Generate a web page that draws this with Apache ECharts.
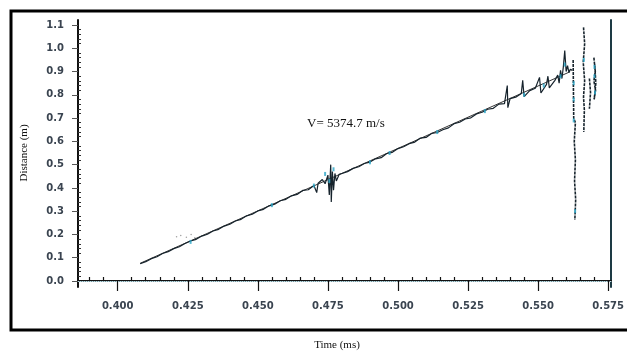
<!DOCTYPE html>
<html>
<head>
<meta charset="utf-8">
<script src="https://cdn.jsdelivr.net/npm/echarts@6/dist/echarts.min.js"></script>
<style>
  html, body { margin: 0; padding: 0; background: #fff; }
  #chart { width: 627px; height: 352px; }
</style>
</head>
<body>
<div id="chart"></div>
<script>
// Distance vs time trace (scanned plot) — fitted velocity V = 5374.7 m/s
const X_TICKS = [0.400, 0.425, 0.450, 0.475, 0.500, 0.525, 0.550, 0.575];
const Y_TICKS = [0.0, 0.1, 0.2, 0.3, 0.4, 0.5, 0.6, 0.7, 0.8, 0.9, 1.0, 1.1];

// main trace
const timeMs = [
  0.408, 0.410, 0.412, 0.414, 0.416, 0.418, 0.420, 0.422, 0.424, 0.426,
  0.428, 0.430, 0.432, 0.434, 0.436, 0.438, 0.440, 0.442, 0.444, 0.446,
  0.448, 0.450, 0.452, 0.454, 0.456, 0.458, 0.460, 0.462, 0.464, 0.466,
  0.468, 0.470, 0.471, 0.4715, 0.472, 0.473, 0.474, 0.475, 0.4755, 0.476,
  0.4762, 0.4766, 0.477, 0.4775, 0.478, 0.479, 0.480, 0.482, 0.484, 0.486,
  0.488, 0.490, 0.492, 0.494, 0.496, 0.498, 0.500, 0.502, 0.504, 0.506,
  0.508, 0.510, 0.512, 0.514, 0.516, 0.518, 0.520, 0.522, 0.524, 0.526,
  0.528, 0.530, 0.532, 0.534, 0.536, 0.538, 0.539, 0.5392, 0.540, 0.542,
  0.544, 0.5445, 0.545, 0.547, 0.549, 0.5505, 0.551, 0.553, 0.5535, 0.554,
  0.556, 0.557, 0.5575, 0.558, 0.5585, 0.559, 0.5595, 0.560, 0.5605, 0.561,
  0.5615, 0.5622
];
const distM = [
  0.074, 0.083, 0.096, 0.104, 0.118, 0.126, 0.139, 0.147, 0.161, 0.172,
  0.179, 0.193, 0.201, 0.215, 0.222, 0.236, 0.244, 0.258, 0.265, 0.280,
  0.287, 0.301, 0.308, 0.323, 0.330, 0.345, 0.351, 0.366, 0.372, 0.389,
  0.392, 0.410, 0.380, 0.420, 0.414, 0.436, 0.418, 0.455, 0.370, 0.500,
  0.340, 0.470, 0.390, 0.462, 0.430, 0.458, 0.462, 0.470, 0.484, 0.491,
  0.505, 0.511, 0.525, 0.530, 0.548, 0.553, 0.569, 0.577, 0.590, 0.597,
  0.614, 0.617, 0.634, 0.638, 0.650, 0.658, 0.676, 0.682, 0.696, 0.701,
  0.718, 0.725, 0.738, 0.742, 0.760, 0.762, 0.840, 0.745, 0.784, 0.790,
  0.806, 0.862, 0.792, 0.818, 0.828, 0.875, 0.808, 0.845, 0.880, 0.830,
  0.862, 0.885, 0.850, 0.905, 0.870, 0.920, 0.990, 0.900, 0.925, 0.895,
  0.910, 0.905
];

// linear fit endpoints
const fitLine = [[0.408, 0.076], [0.561, 0.897]];

// break-up at the end of the record: vertical streaks
const burstA = [[0.5625, 0.950], [0.5627, 0.700], [0.5633, 0.680], [0.5629, 0.600], [0.5633, 0.520], [0.5630, 0.430], [0.5634, 0.350], [0.5631, 0.262]];
const burstB = [[0.5662, 1.090], [0.5666, 1.020], [0.5661, 0.940], [0.5666, 0.860], [0.5662, 0.790], [0.5665, 0.735], [0.5663, 0.640]];
const burstC = [[0.5683, 0.870], [0.5687, 0.810], [0.5683, 0.740]];
const burstD = [[0.5699, 0.960], [0.5704, 0.900], [0.5699, 0.860], [0.5705, 0.820], [0.5700, 0.780], [0.5706, 0.850], [0.5702, 0.930]];

// cyan scan flecks along the trace
const cyanFlecks = [
  [0.426, 0.168], [0.455, 0.326], [0.470, 0.410], [0.474, 0.460], [0.4755, 0.430],
  [0.477, 0.480], [0.490, 0.510], [0.497, 0.550], [0.514, 0.640], [0.531, 0.730],
  [0.545, 0.800], [0.552, 0.840], [0.558, 0.880], [0.5595, 0.930], [0.5627, 0.850],
  [0.5627, 0.780], [0.5627, 0.690], [0.5632, 0.300], [0.5663, 0.950], [0.5701, 0.920],
  [0.5701, 0.880], [0.5703, 0.810]
];
const grayDots = [[0.4225, 0.196], [0.4245, 0.188], [0.4262, 0.200], [0.4275, 0.186], [0.4210, 0.190]];

const X_MIN = 0.38583, X_MAX = 0.57606;
const Y_MIN = -0.0258, Y_MAX = 1.1215;

const minorX = [];
for (let v = 390; v <= 575; v += 5) if (v % 25) minorX.push(v / 1000);
const minorY = [];
for (let v = 0; v <= 110; v += 2) if (v % 10) minorY.push(v / 100);

const chart = echarts.init(document.getElementById('chart'), null, { renderer: 'canvas' });

const labelFont = { fontFamily: 'DejaVu Sans', fontSize: 10, fontWeight: 'bold', color: '#3a4450' };
const AX = '#111';

const trace = timeMs.map((t, i) => [t, distM[i]]);
const burstSeries = [burstA, burstB, burstC, burstD].map(seg => ({
  type: 'line', data: seg, symbol: 'none', silent: true,
  lineStyle: { color: '#16232c', width: 1.6, type: [3, 1] }, z: 4,
}));

chart.setOption({
  backgroundColor: '#fff', animation: false,
  grid: { left: 78, right: 12, top: 20, bottom: 65 },
  xAxis: [
    {
      type: 'value', min: X_MIN, max: X_MAX, position: 'bottom',
      axisLine: { lineStyle: { color: AX, width: 2 } },
      axisTick: { show: true, inside: false, length: 10, customValues: X_TICKS, lineStyle: { color: AX, width: 1.2 } },
      axisLabel: { ...labelFont, margin: 14, customValues: X_TICKS, formatter: v => v.toFixed(3) },
      splitLine: { show: false },
    },
    {
      type: 'value', min: X_MIN, max: X_MAX, position: 'bottom',
      axisLine: { show: false },
      axisTick: { show: true, inside: true, length: 4, customValues: minorX, lineStyle: { color: AX, width: 1.2 } },
      axisLabel: { show: false }, splitLine: { show: false },
    },
    {
      type: 'value', min: X_MIN, max: X_MAX, position: 'top',
      axisLine: { lineStyle: { color: '#b9dde6', width: 1, type: 'dotted' } },
      axisTick: { show: false }, axisLabel: { show: false }, splitLine: { show: false },
    },
  ],
  yAxis: [
    {
      type: 'value', min: Y_MIN, max: Y_MAX, position: 'left',
      axisLine: { show: true, lineStyle: { color: AX, width: 2 } },
      axisTick: { show: true, inside: false, length: 6, customValues: Y_TICKS, lineStyle: { color: '#555', width: 1 } },
      axisLabel: { ...labelFont, margin: 14, customValues: Y_TICKS, formatter: v => v.toFixed(1) },
      splitLine: { show: false },
    },
    {
      type: 'value', min: Y_MIN, max: Y_MAX, position: 'left',
      axisLine: { show: false },
      axisTick: { show: true, inside: true, length: 3, customValues: minorY, lineStyle: { color: '#333', width: 1 } },
      axisLabel: { show: false }, splitLine: { show: false },
    },
    {
      type: 'value', min: Y_MIN, max: Y_MAX, position: 'right',
      axisLine: { show: true, lineStyle: { color: '#1d3a44', width: 2 } },
      axisTick: { show: false }, axisLabel: { show: false }, splitLine: { show: false },
    },
  ],
  series: [
    {
      type: 'line', data: fitLine, symbol: 'none', silent: true,
      lineStyle: { color: '#000', width: 0.8 }, z: 2,
    },
    {
      type: 'line', data: trace, symbol: 'none', silent: true,
      lineStyle: { color: '#16232c', width: 1.2 }, z: 3,
    },
    ...burstSeries,
    {
      type: 'scatter', data: cyanFlecks, symbol: 'rect', symbolSize: [2, 4], silent: true,
      itemStyle: { color: '#2aa6c8' }, z: 5,
    },
    {
      type: 'scatter', data: grayDots, symbolSize: 1.5, silent: true,
      itemStyle: { color: '#888' }, z: 1,
    },
  ],
  graphic: [
    {
      type: 'rect', silent: true, z: 0,
      shape: { x: 11, y: 11, width: 625, height: 319 },
      style: { fill: null, stroke: '#000', lineWidth: 3 },
    },
    {
      type: 'text', left: 307, top: 117, silent: true,
      style: { text: 'V= 5374.7 m/s', font: '13px "Liberation Serif"', fill: '#111' },
    },
    {
      type: 'text', x: 337, y: 345, silent: true,
      style: { text: 'Time (ms)', font: '11px "Liberation Serif"', fill: '#111', align: 'center', verticalAlign: 'middle' },
    },
    {
      type: 'text', x: 24, y: 153, rotation: Math.PI / 2, silent: true,
      style: { text: 'Distance (m)', font: '11px "Liberation Serif"', fill: '#111', align: 'center', verticalAlign: 'middle' },
    },
  ],
});
</script>
</body>
</html>
